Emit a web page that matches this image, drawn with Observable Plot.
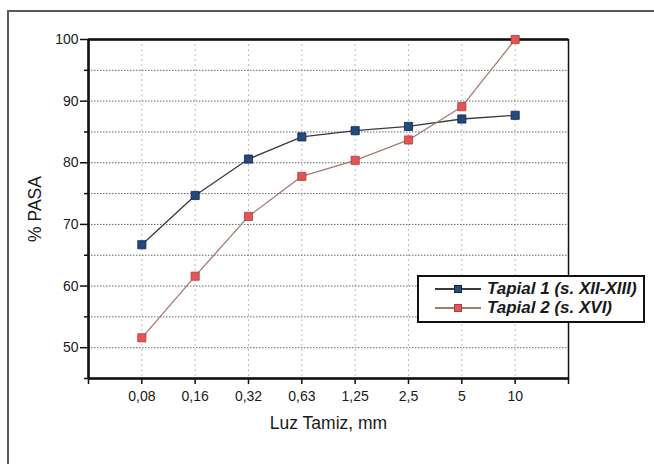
<!DOCTYPE html>
<html>
<head>
<meta charset="utf-8">
<script src="https://cdn.jsdelivr.net/npm/d3@7"></script>
<script src="https://cdn.jsdelivr.net/npm/@observablehq/plot@0.6"></script>
<style>
  html, body { margin: 0; padding: 0; background: #fff; overflow: hidden; }
  #wrap { position: relative; width: 654px; height: 464px; }
  #frame { position: absolute; left: 7px; top: 10px; width: 700px; height: 500px; border: 2px solid #5a5a5a; box-sizing: border-box; pointer-events: none; }
  #legend { position: absolute; left: 417px; top: 275px; width: 228px; height: 48px; border: 2px solid #111; background: #fff; box-sizing: border-box;
            font-family: "Liberation Sans", Arial, sans-serif; font-weight: bold; font-style: italic; font-size: 17px; color: #1a1a1a; }
  .row { position: absolute; left: 0; height: 18px; display: flex; align-items: center; white-space: nowrap; }
  .sw { position: relative; width: 46px; height: 18px; margin-left: 16px; margin-right: 6px; }
  .sw .ln { position: absolute; left: 0; right: 0; top: 8px; height: 1.5px; }
  .sw .mk { position: absolute; left: 19px; top: 5px; width: 8px; height: 8px; box-sizing: border-box; }
</style>
</head>
<body>
<div id="wrap">
  <div id="chart"></div>
  <div id="frame"></div>
  <div id="legend"></div>
</div>
<script>
const sizes = ["0,08", "0,16", "0,32", "0,63", "1,25", "2,5", "5", "10"];
const tapial1 = [66.7, 74.7, 80.6, 84.2, 85.2, 85.9, 87.1, 87.7];
const tapial2 = [51.6, 61.6, 71.3, 77.8, 80.4, 83.7, 89.1, 100];
const seriesNames = ["Tapial 1 (s. XII-XIII)", "Tapial 2 (s. XVI)"];
const markerFill = ["#234a7c", "#e35656"];
const markerStroke = ["#12264a", "#b23a3a"];
const lineColor = ["#3a3a3a", "#a27a74"];
const yMajor = [50, 60, 70, 80, 90, 100];
const yMinor = [45, 55, 65, 75, 85, 95];
const yGrid = [50, 55, 60, 65, 70, 75, 80, 85, 90, 95];

const rows = [];
[tapial1, tapial2].forEach((vals, s) => vals.forEach((v, i) => rows.push({ s, i: i + 1, label: sizes[i], v })));
const positions = sizes.map((_, i) => i + 1);
const edgeTicks = [0, sizes.length + 1];

const font = '"Liberation Sans", Arial, sans-serif';

const plot = Plot.plot({
  width: 654,
  height: 464,
  marginLeft: 88,
  marginRight: 86,
  marginTop: 39,
  marginBottom: 86,
  style: { fontFamily: font, fontSize: "14px", color: "#1a1a1a", background: "transparent" },
  x: { domain: [0, sizes.length + 1] },
  y: { domain: [45, 100] },
  marks: [
    Plot.gridX(positions, { stroke: "#bdbdbd", strokeOpacity: 1, strokeWidth: 1, strokeDasharray: "2,3" }),
    Plot.gridY(yGrid, { stroke: "#666", strokeOpacity: 1, strokeWidth: 1, strokeDasharray: "1.5,1.5" }),
    Plot.axisY(yMajor, { tickSize: 8, tickPadding: 2, tickFormat: d => d, fill: "#1a1a1a", stroke: "#111", strokeWidth: 1.5,
      label: "% PASA", labelArrow: "none", labelAnchor: "center", labelOffset: 60 }),
    Plot.axisY(yMinor, { tickSize: 4, tickFormat: () => "", stroke: "#111", strokeWidth: 1.5, label: null }),
    Plot.axisX(positions, { tickSize: 6, tickPadding: 7, tickFormat: d => sizes[d - 1], fill: "#1a1a1a", stroke: "#111", strokeWidth: 1.5,
      label: "Luz Tamiz, mm", labelArrow: "none", labelAnchor: "center", labelOffset: 50 }),
    Plot.axisX(edgeTicks, { tickSize: 6, tickFormat: () => "", stroke: "#111", strokeWidth: 1.5, label: null }),
    Plot.frame({ stroke: "#111", strokeWidth: 1.5 }),
    Plot.ruleX([0], { stroke: "#111", strokeWidth: 2.5 }),
    Plot.ruleY([45], { stroke: "#111", strokeWidth: 2.5 }),
    Plot.ruleY([100], { stroke: "#111", strokeWidth: 2.5 }),
    Plot.line(rows.filter(d => d.s === 0), { x: "i", y: "v", stroke: lineColor[0], strokeWidth: 1.3 }),
    Plot.line(rows.filter(d => d.s === 1), { x: "i", y: "v", stroke: lineColor[1], strokeWidth: 1.3 }),
    Plot.dot(rows, { x: "i", y: "v", symbol: "square", r: 4.6, fill: d => markerFill[d.s], stroke: d => markerStroke[d.s], strokeWidth: 0.8 })
  ]
});

// axis titles: larger, no arrows
plot.querySelectorAll("g[aria-label='y-axis label'] text, g[aria-label='x-axis label'] text").forEach(t => {
  t.setAttribute("font-size", "17.5");
  t.textContent = t.textContent.replace(/\s*[→↑←↓]\s*/g, "");
});
document.getElementById("chart").appendChild(plot);

const legend = document.getElementById("legend");
seriesNames.forEach((name, s) => {
  const row = document.createElement("div");
  row.className = "row";
  row.style.top = (3 + s * 19) + "px";
  row.innerHTML = `<div class="sw"><div class="ln" style="background:${lineColor[s]}"></div><div class="mk" style="background:${markerFill[s]};border:1px solid ${markerStroke[s]}"></div></div><span>${name}</span>`;
  legend.appendChild(row);
});
</script>
</body>
</html>
